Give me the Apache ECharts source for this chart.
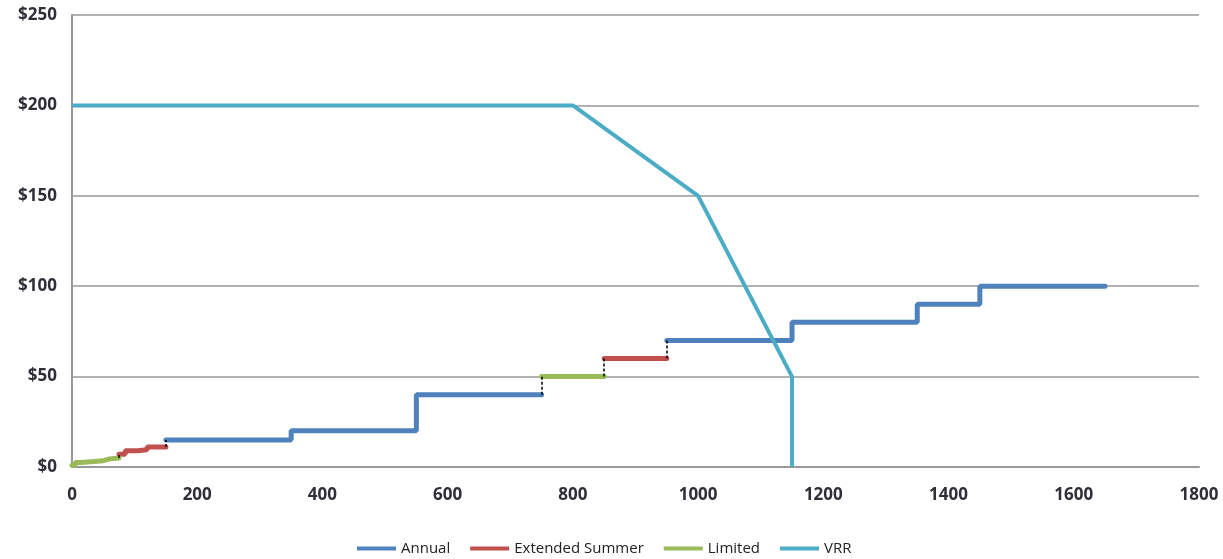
<!DOCTYPE html>
<html>
<head>
<meta charset="utf-8">
<script src="https://cdn.jsdelivr.net/npm/echarts@6/dist/echarts.min.js"></script>
<style>
html,body{margin:0;padding:0;background:#fff;}
#chart{width:1223px;height:559px;}
</style>
</head>
<body>
<div id="chart"></div>
<script>
// ---- data ----
const xTicks = [0, 200, 400, 600, 800, 1000, 1200, 1400, 1600, 1800];
const yTicks = [0, 50, 100, 150, 200, 250];
// step points: [quantity start, price], last point = [quantity end, price]
const annualLow = [[150, 15], [350, 20], [550, 40], [750, 40]];
const annualHigh = [[950, 70], [1150, 80], [1350, 90], [1450, 100], [1650, 100]];
const extendedSummerA = [[75, 7], [85, 9], [105, 9.5], [120, 11], [150, 11]];
const extendedSummerB = [[850, 60], [950, 60]];
const limitedA = [[0, 1], [5, 2.5], [15, 3], [35, 3.5], [50, 4.5], [60, 5], [75, 5]];
const limitedB = [[750, 50], [850, 50]];
const vrr = [[0, 200], [800, 200], [1000, 150], [1150, 50], [1150, 0]];
const connectors = [[[75, 5], [75, 7]], [[150, 11], [150, 15]], [[750, 40], [750, 50]], [[850, 50], [850, 60]], [[950, 60], [950, 70]]];

const C = {annual: '#4F81BD', ext: '#C0504D', lim: '#9BBB59', vrr: '#4BACC6'};
const font = '"Open Sans", Lato, sans-serif';

function stepSeries(name, data, color, z) {
  return {
    name: name, type: 'line', step: 'end', data: data,
    showSymbol: false, symbol: 'none', z: z || 2,
    lineStyle: {color: color, width: 5, cap: 'round'},
    itemStyle: {color: color},
    animation: false
  };
}

const chart = echarts.init(document.getElementById('chart'));
chart.setOption({
  animation: false,
  grid: {left: 72, right: 24, top: 15, bottom: 92, containLabel: false},
  legend: {
    data: ['Annual', 'Extended Summer', 'Limited', 'VRR'],
    top: 536, left: 352,
    icon: 'rect', itemWidth: 39, itemHeight: 4, itemGap: 20,
    textStyle: {fontFamily: font, fontSize: 15, color: '#222'}
  },
  xAxis: {
    type: 'value', min: 0, max: 1800, interval: 200,
    axisLine: {show: true, lineStyle: {color: '#999', width: 2}},
    axisTick: {show: false},
    splitLine: {show: false},
    axisLabel: {margin: 20, fontFamily: font, fontSize: 17, fontWeight: 'bold', color: '#2f2f3a',
      formatter: v => xTicks.includes(v) ? String(v) : ''}
  },
  yAxis: {
    type: 'value', min: 0, max: 250, interval: 50,
    axisLine: {show: true, lineStyle: {color: '#999', width: 2}},
    axisTick: {show: false},
    splitLine: {show: true, lineStyle: {color: '#999', width: 1.5}},
    axisLabel: {margin: 15, fontFamily: font, fontSize: 17, fontWeight: 'bold', color: '#2f2f3a',
      formatter: v => yTicks.includes(v) ? '$' + v : ''}
  },
  series: [
    stepSeries('Annual', annualLow, C.annual),
    stepSeries('Annual', annualHigh, C.annual),
    stepSeries('Extended Summer', extendedSummerA, C.ext),
    stepSeries('Extended Summer', extendedSummerB, C.ext),
    stepSeries('Limited', limitedA, C.lim),
    stepSeries('Limited', limitedB, C.lim),
    {
      name: 'VRR', type: 'line', data: vrr, showSymbol: false, symbol: 'none', z: 5,
      lineStyle: {color: C.vrr, width: 4}, itemStyle: {color: C.vrr}
    },
    {
      name: 'conn', type: 'line', data: [], z: 6, silent: true,
      markLine: {
        silent: true, symbol: 'none', animation: false,
        label: {show: false},
        lineStyle: {color: '#000', width: 1.5, type: [3, 2]},
        data: connectors.map(c => [{coord: c[0]}, {coord: c[1]}])
      }
    }
  ]
});
</script>
</body>
</html>
